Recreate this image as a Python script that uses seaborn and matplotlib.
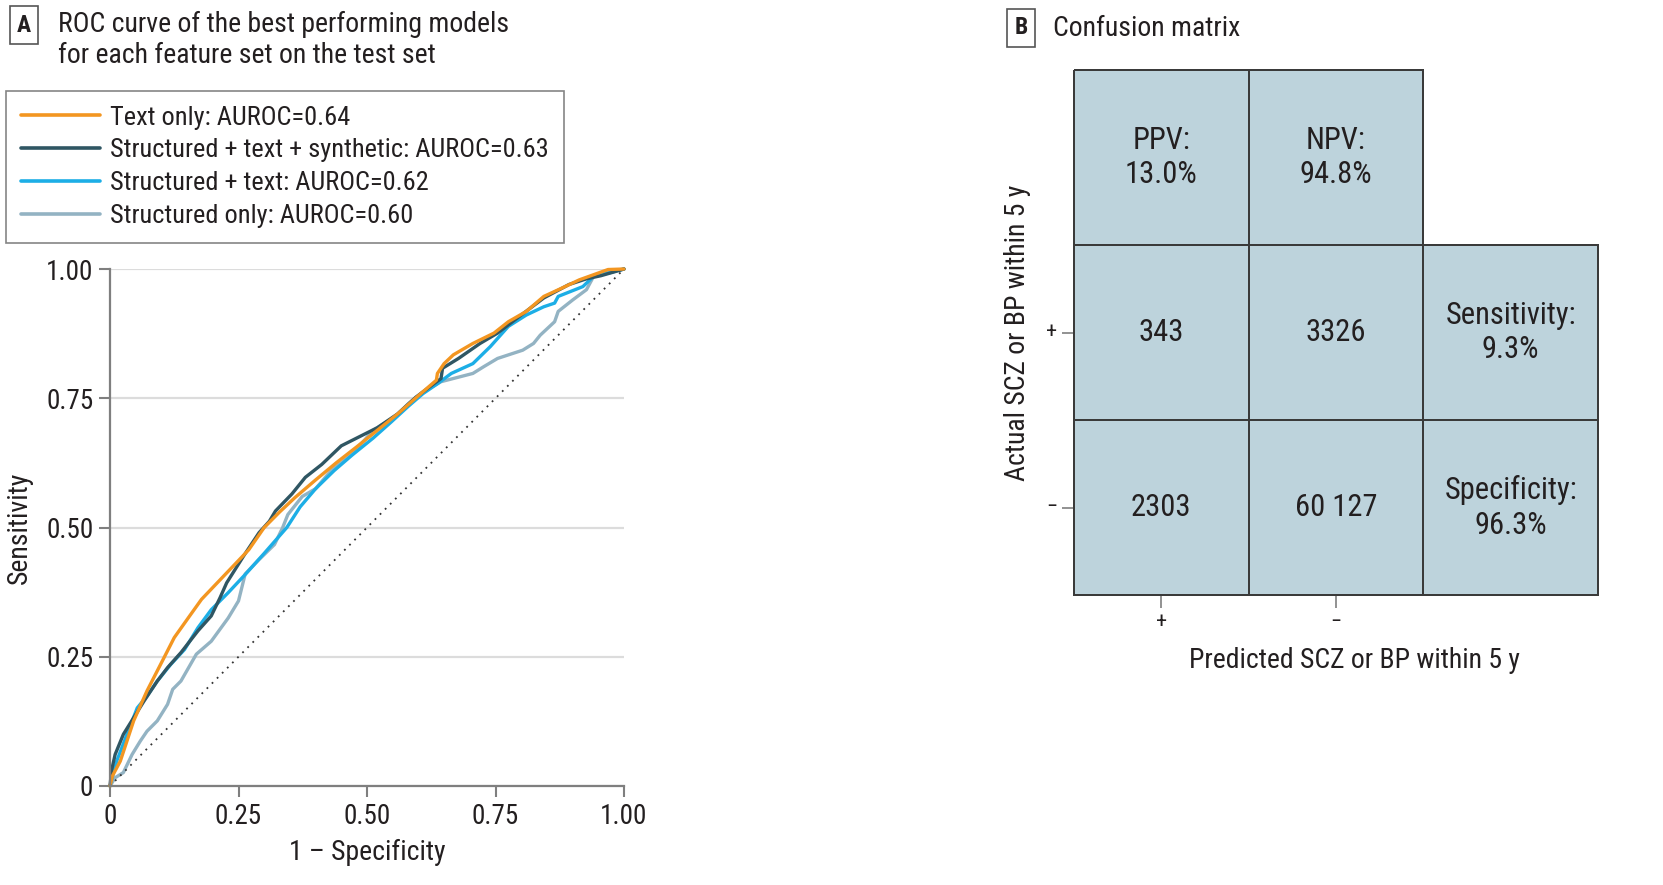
import numpy as np
import pandas as pd
import matplotlib
matplotlib.use("Agg")
import matplotlib.pyplot as plt
from matplotlib import font_manager
from matplotlib.colors import ListedColormap, to_rgba
from matplotlib.lines import Line2D
import seaborn as sns

# ---------------- data ----------------
text_fpr = [0, 0.005, 0.02, 0.046, 0.072, 0.105, 0.125, 0.155, 0.178, 0.224, 0.27, 0.30, 0.33,
            0.36, 0.40, 0.44, 0.48, 0.52, 0.56, 0.60, 0.635, 0.637, 0.65, 0.668, 0.706, 0.747,
            0.775, 0.81, 0.844, 0.879, 0.913, 0.941, 0.969, 1.0]
text_tpr = [0, 0.02, 0.048, 0.126, 0.184, 0.248, 0.287, 0.329, 0.361, 0.409, 0.457, 0.50, 0.53,
            0.558, 0.592, 0.625, 0.656, 0.688, 0.72, 0.755, 0.785, 0.798, 0.817, 0.834, 0.856, 0.876,
            0.898, 0.918, 0.947, 0.963, 0.979, 0.989, 0.999, 1.0]

synth_fpr = [0, 0.003, 0.010, 0.026, 0.046, 0.066, 0.092, 0.112, 0.138, 0.171, 0.197, 0.214, 0.227,
             0.26, 0.29, 0.31, 0.322, 0.354, 0.38, 0.412, 0.45, 0.49, 0.52, 0.56, 0.595, 0.63, 0.644,
             0.647, 0.678, 0.72, 0.754, 0.796, 0.844, 0.893, 0.927, 0.955, 0.983, 1.0]
synth_tpr = [0, 0.03, 0.061, 0.10, 0.132, 0.164, 0.203, 0.229, 0.258, 0.30, 0.329, 0.364, 0.393,
             0.445, 0.49, 0.512, 0.532, 0.565, 0.597, 0.622, 0.658, 0.678, 0.693, 0.72, 0.752, 0.778,
             0.788, 0.808, 0.827, 0.856, 0.876, 0.908, 0.944, 0.970, 0.981, 0.987, 0.995, 1.0]

struct_text_fpr = [0, 0.013, 0.033, 0.053, 0.072, 0.092, 0.118, 0.145, 0.171, 0.197, 0.23, 0.263,
                   0.30, 0.344, 0.37, 0.40, 0.436, 0.471, 0.512, 0.547, 0.581, 0.609, 0.637, 0.664,
                   0.706, 0.74, 0.775, 0.81, 0.844, 0.865, 0.872, 0.92, 0.941, 0.969, 1.0]
struct_text_tpr = [0, 0.048, 0.10, 0.151, 0.174, 0.203, 0.235, 0.264, 0.306, 0.341, 0.374, 0.409,
                   0.45, 0.50, 0.54, 0.575, 0.61, 0.64, 0.673, 0.704, 0.735, 0.759, 0.778, 0.798,
                   0.817, 0.850, 0.889, 0.911, 0.927, 0.934, 0.947, 0.966, 0.986, 0.992, 1.0]

struct_fpr = [0, 0.010, 0.026, 0.043, 0.059, 0.072, 0.092, 0.112, 0.122, 0.138, 0.168, 0.197, 0.23,
              0.25, 0.263, 0.289, 0.32, 0.336, 0.346, 0.374, 0.40, 0.43, 0.471, 0.512, 0.554, 0.581,
              0.609, 0.644, 0.706, 0.727, 0.754, 0.803, 0.824, 0.837, 0.865, 0.872, 0.90, 0.927,
              0.941, 0.969, 1.0]
struct_tpr = [0, 0.016, 0.026, 0.061, 0.087, 0.106, 0.126, 0.158, 0.187, 0.203, 0.255, 0.280, 0.325,
              0.358, 0.41, 0.437, 0.467, 0.50, 0.525, 0.56, 0.575, 0.61, 0.642, 0.688, 0.714, 0.740,
              0.762, 0.782, 0.798, 0.811, 0.827, 0.843, 0.856, 0.872, 0.898, 0.918, 0.940, 0.960,
              0.986, 0.995, 1.0]

model_names = ["Text only", "Structured + text + synthetic", "Structured + text", "Structured only"]
auroc = ["0.64", "0.63", "0.62", "0.60"]
chance = [0, 1]

axis_ticks = [0, 0.25, 0.50, 0.75, 1.00]
axis_ticklabels = ["0", "0.25", "0.50", "0.75", "1.00"]

# confusion matrix
actual_pos_counts = ["343", "3326"]
actual_neg_counts = ["2303", "60 127"]
ppv_npv = ["PPV:\n13.0%", "NPV:\n94.8%"]
sens_spec = ["Sensitivity:\n9.3%", "Specificity:\n96.3%"]
cm_ticklabels = ["+", "\u2212"]

# ---------------- style ----------------
sns.set_theme(style="white")
installed = {f.name for f in font_manager.fontManager.ttflist}
candidates = ["Roboto Condensed", "Liberation Sans Narrow", "Open Sans Condensed", "Lato"]
families = [c for c in candidates if c in installed] + ["DejaVu Sans"]
plt.rcParams["font.family"] = families
plt.rcParams["text.color"] = "#231f20"
plt.rcParams["axes.labelcolor"] = "#231f20"
plt.rcParams["xtick.color"] = "#231f20"
plt.rcParams["ytick.color"] = "#231f20"

narrow = families[0] != "Lato"
FS = 19 if narrow else 17

colors = {
    "Text only": "#f39621",
    "Structured + text + synthetic": "#2f5663",
    "Structured + text": "#1caee6",
    "Structured only": "#93b3c3",
}
GRAY = "#7f7f7f"

fig = plt.figure(figsize=(16.63, 8.85), dpi=100)

# ---------------- panel A ----------------
ax = fig.add_axes([110 / 1663, 1 - 786 / 885, 514 / 1663, 517 / 885])

frames = []
for name, fx, ty in [("Structured only", struct_fpr, struct_tpr),
                     ("Structured + text", struct_text_fpr, struct_text_tpr),
                     ("Structured + text + synthetic", synth_fpr, synth_tpr),
                     ("Text only", text_fpr, text_tpr)]:
    frames.append(pd.DataFrame({"fpr": fx, "tpr": ty, "model": name}))
df = pd.concat(frames, ignore_index=True)

draw_order = ["Structured only", "Structured + text", "Structured + text + synthetic", "Text only"]
sns.lineplot(data=df, x="fpr", y="tpr", hue="model", hue_order=draw_order, palette=colors,
             estimator=None, sort=False, linewidth=2.4, ax=ax, legend=False)
sns.lineplot(x=chance, y=chance, color="#333333", linewidth=1.3, linestyle=(0, (1, 3)), ax=ax)
for ln in ax.lines:
    ln.set_clip_on(False)

ax.set_xlim(0, 1)
ax.set_ylim(0, 1)
ax.set_xticks(axis_ticks)
ax.set_xticklabels(axis_ticklabels)
ax.set_yticks(axis_ticks)
ax.set_yticklabels(axis_ticklabels)
ax.tick_params(axis="both", which="both", bottom=True, left=True, direction="out", length=8,
               width=1.5, color=GRAY, labelsize=FS + 0.5, pad=4)
ax.yaxis.grid(True, color="#dcdcdc", linewidth=1.6)
ax.xaxis.grid(False)
ax.set_axisbelow(True)
for s in ["top", "right"]:
    ax.spines[s].set_visible(False)
for s in ["left", "bottom"]:
    ax.spines[s].set_color(GRAY)
    ax.spines[s].set_linewidth(1.6)
ax.set_xlabel("1 \u2013 Specificity", fontsize=FS + 1)
ax.set_ylabel("Sensitivity", fontsize=FS + 1)
ax.xaxis.set_label_coords(0.5, -0.102)
ax.yaxis.set_label_coords(-0.15, 0.5)

handles = [Line2D([0], [0], color=colors[m], linewidth=2.6) for m in model_names]
labels = [f"{m}: AUROC={a}" for m, a in zip(model_names, auroc)]
leg = fig.legend(handles, labels, loc="upper left", bbox_to_anchor=(6 / 1663, 1 - 91 / 885),
                 frameon=True, fancybox=False, fontsize=FS, handlelength=3.0, handletextpad=0.4,
                 labelspacing=0.34, borderpad=0.55, borderaxespad=0.0)
leg.get_frame().set_edgecolor("#666666")
leg.get_frame().set_linewidth(1.2)
leg.get_frame().set_facecolor("white")

fig.text(24 / 1663, 1 - 25 / 885, "A", fontsize=17, fontweight="bold", ha="center", va="center",
         bbox=dict(boxstyle="square,pad=0.3", fc="white", ec="#555555", lw=1.2))
fig.text(58 / 1663, 1 - 11 / 885,
         "ROC curve of the best performing models\nfor each feature set on the test set",
         fontsize=FS + 1, ha="left", va="top", linespacing=1.2)

# ---------------- panel B ----------------
cax = fig.add_axes([1074 / 1663, 1 - 595 / 885, 524 / 1663, 525 / 885])
cells = np.array([
    [ppv_npv[0], ppv_npv[1], ""],
    [actual_pos_counts[0], actual_pos_counts[1], sens_spec[0]],
    [actual_neg_counts[0], actual_neg_counts[1], sens_spec[1]],
])
vals = np.ones(cells.shape)
mask = np.zeros(cells.shape, dtype=bool)
mask[0, 2] = True
LC = "#3a3a3a"
sns.heatmap(vals, mask=mask, annot=cells, fmt="", cmap=ListedColormap(["#bdd3dc"]), vmin=0, vmax=2,
            cbar=False, linewidths=1.2, linecolor=LC, square=False, ax=cax,
            annot_kws={"fontsize": FS + 3, "color": "#231f20", "linespacing": 1.25})
mesh = cax.collections[0]
mesh.set_clip_on(False)
edge_cols = [to_rgba(LC) if not m else (0, 0, 0, 0) for m in mask.ravel()]
mesh.set_edgecolor(edge_cols)
cax.set_xticks([0.5, 1.5])
cax.set_xticklabels(cm_ticklabels)
cax.set_yticks([1.5, 2.5])
cax.set_yticklabels(cm_ticklabels, rotation=0)
cax.tick_params(axis="both", bottom=True, left=True, direction="out", length=9, width=1.2,
                color=GRAY, labelsize=16, pad=3)
cax.set_xlabel("Predicted SCZ or BP within 5 y", fontsize=FS + 1)
cax.set_ylabel("Actual SCZ or BP within 5 y", fontsize=FS + 1)
cax.xaxis.set_label_coords(0.535, -0.1)
cax.yaxis.set_label_coords(-0.083, 0.5)

fig.text(1021 / 1663, 1 - 28 / 885, "B", fontsize=17, fontweight="bold", ha="center", va="center",
         bbox=dict(boxstyle="square,pad=0.3", fc="white", ec="#555555", lw=1.2))
fig.text(1053 / 1663, 1 - 28 / 885, "Confusion matrix", fontsize=FS + 1, ha="left", va="center")

fig.savefig("out.png", dpi=100, facecolor="white")
